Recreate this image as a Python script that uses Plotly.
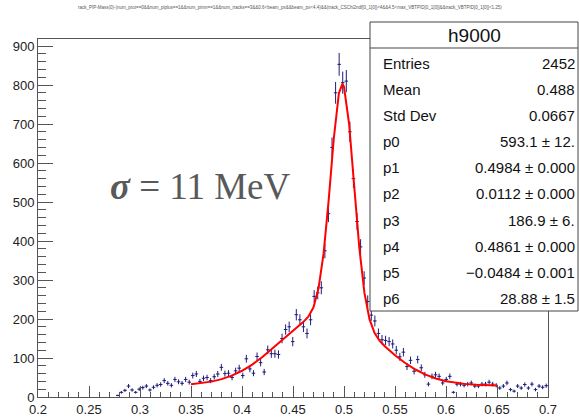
import math
import plotly.graph_objects as go

# ---------------- data ----------------
hist_xmin = 0.0
hist_xmax = 0.7
n_bins = 200
first_bin = 79  # first non-empty bin index drawn

counts = [
    4,
    12, 17, 28, 18, 12, 20, 24, 28, 18, 25,
    30, 32, 42, 35, 30, 45, 39, 35, 45, 38,
    55, 59, 40, 48, 50, 42, 52, 59, 76, 60,
    61, 50, 67, 74, 55, 98, 72, 61, 104, 88,
    64, 121, 111, 111, 109, 150, 173, 180, 142, 211,
    198, 180, 163, 198, 258, 267, 280, 375, 470, 640,
    780, 853, 806, 810, 680, 560, 450, 385, 305, 245,
    210, 195, 163, 147, 145, 142, 136, 120, 103, 115,
    78, 94, 66, 96, 75, 57, 33, 53, 57, 53,
    36, 45, 53, 12, 33, 33, 30, 33, 36, 28,
    28, 33, 33, 38, 33, 30, 23, 28, 36, 19,
    15, 28, 23, 32, 23, 33, 19, 28, 25, 29,
]

fit_x = [0.35, 0.36, 0.37, 0.38, 0.39, 0.40, 0.41, 0.42, 0.43, 0.44, 0.45, 0.455,
         0.46, 0.465, 0.47, 0.475, 0.48, 0.485, 0.49, 0.495, 0.4984, 0.50, 0.505,
         0.51, 0.515, 0.52, 0.525, 0.53, 0.535, 0.54, 0.55, 0.56, 0.57, 0.58, 0.59,
         0.60, 0.61, 0.62, 0.63, 0.64, 0.65]
fit_y = [32.5, 35.2, 39.4, 45.8, 54.9, 67.3, 83.2, 102.4, 124.3, 147.6, 170.4, 181.2,
         192.1, 205.8, 229.5, 277.8, 368.2, 505.6, 662.9, 779.1, 803.0, 795.3, 700.7,
         541.3, 383.0, 267.5, 199.6, 163.9, 143.9, 130.0, 107.1, 87.2, 70.5, 57.4, 47.6,
         40.6, 35.9, 33.0, 31.1, 30.1, 29.5]

stats_title = "h9000"
stats_labels = ["Entries", "Mean", "Std Dev", "p0", "p1", "p2", "p3", "p4", "p5", "p6"]
stats_values = ["2452", "0.488", "0.0667", "593.1 ± 12.", "0.4984 ± 0.000",
                "0.0112 ± 0.000", "186.9 ± 6.", "0.4861 ± 0.000",
                "−0.0484 ± 0.001", "28.88 ± 1.5"]

plot_title = ("rack_PIP-Mass(0)-(num_prot==0&&num_piplus==1&&num_pimn==1&&num_tracks==3&&"
              "0.6<beam_px&&beam_px<4.4)&&(track_CSChi2ndf[0_1[0]]<4&&4.5<max_VBTPID[0_1[0]]"
              "&&track_VBTPID[0_1[0]]<1.25)")
sigma_text = "<b><i>σ</i></b> = 11 MeV"

# ---------------- derived ----------------
bw = (hist_xmax - hist_xmin) / n_bins
centers = [hist_xmin + bw * (first_bin + i + 0.5) for i in range(len(counts))]
errs = [math.sqrt(c) for c in counts]

navy = "#1e1e7a"

fig = go.Figure()
fig.add_trace(go.Scatter(
    x=centers, y=counts, mode="markers",
    marker=dict(size=1, color=navy),
    error_y=dict(type="data", array=errs, visible=True, width=0, thickness=1, color=navy),
    error_x=dict(type="constant", value=bw / 2, visible=True, width=0, thickness=1, color=navy),
    showlegend=False, hoverinfo="skip",
))
fig.add_trace(go.Scatter(
    x=fit_x, y=fit_y, mode="lines",
    line=dict(color="#ff0000", width=2),
    showlegend=False, hoverinfo="skip",
))

L, R, T, B = 38, 31, 39, 22
W, H = 579, 419
pw, ph = W - L - R, H - T - B


def px(xp):
    return (xp - L) / pw


def py(yp):
    return (H - B - yp) / ph


axis_col = "#555555"
font_fam = "Liberation Sans, Arial, sans-serif"

fig.update_layout(
    width=W, height=H, autosize=False,
    margin=dict(l=L, r=R, t=T, b=B, pad=0),
    paper_bgcolor="white", plot_bgcolor="white",
    font=dict(family=font_fam, color="#222222"),
    xaxis=dict(
        range=[0.2, 0.7], showgrid=False, zeroline=False, automargin=False,
        showline=True, linecolor=axis_col, linewidth=1, mirror=True,
        ticks="inside", ticklen=11, tickcolor=axis_col, tickwidth=1,
        tick0=0.2, dtick=0.05, tickfont=dict(size=13, color="#222222"),
        minor=dict(ticks="inside", ticklen=5, dtick=0.01, tickcolor=axis_col, showgrid=False),
    ),
    yaxis=dict(
        range=[0, 918], showgrid=False, zeroline=False, automargin=False,
        showline=True, linecolor=axis_col, linewidth=1, mirror=True,
        ticks="inside", ticklen=15, tickcolor=axis_col, tickwidth=1,
        tick0=0, dtick=100, tickfont=dict(size=13, color="#222222"),
        minor=dict(ticks="inside", ticklen=8, dtick=20, tickcolor=axis_col, showgrid=False),
    ),
)

# stats box
bx0, bx1, by0, by1 = px(370), px(578), py(311), py(22)
fig.add_shape(type="rect", xref="paper", yref="paper", x0=bx0, x1=bx1, y0=by0, y1=by1,
              line=dict(color="#444444", width=1), fillcolor="white", layer="above")
fig.add_shape(type="line", xref="paper", yref="paper", x0=bx0, x1=bx1, y0=py(48), y1=py(48),
              line=dict(color="#444444", width=1), layer="above")
fig.add_annotation(xref="paper", yref="paper", x=(bx0 + bx1) / 2, y=py(36),
                   text=stats_title, showarrow=False, xanchor="center", yanchor="middle",
                   font=dict(size=19, color="#111111", family=font_fam))
row_y = [63, 89, 115, 141, 167, 193, 220, 246, 272, 298]
for lab, val, yy in zip(stats_labels, stats_values, row_y):
    fig.add_annotation(xref="paper", yref="paper", x=px(381), y=py(yy), text=lab,
                       showarrow=False, xanchor="left", yanchor="middle",
                       font=dict(size=15, color="#111111", family=font_fam))
    fig.add_annotation(xref="paper", yref="paper", x=px(577), y=py(yy), text=val,
                       showarrow=False, xanchor="right", yanchor="middle",
                       font=dict(size=15, color="#111111", family=font_fam))

# title (tiny)
fig.add_annotation(xref="paper", yref="paper", x=px(290), y=py(8), text=plot_title,
                   showarrow=False, xanchor="center", yanchor="middle",
                   font=dict(size=4.5, color="#555555", family=font_fam))

# sigma label
fig.add_annotation(xref="paper", yref="paper", x=px(108), y=py(186), text=sigma_text,
                   showarrow=False, xanchor="left", yanchor="middle",
                   font=dict(size=37, color="#595959", family="Liberation Serif, serif"))

post = (
    "document.documentElement.style.margin='0';"
    "document.body.style.margin='0';document.body.style.padding='0';"
    "document.body.style.overflow='hidden';"
    "var gd=document.getElementById('{plot_id}');"
    "Plotly.relayout(gd,{width:579,height:419});"
)

fig.write_html("out.html", config={"responsive": False, "displayModeBar": False},
               default_width="579px", default_height="419px", post_script=post)
